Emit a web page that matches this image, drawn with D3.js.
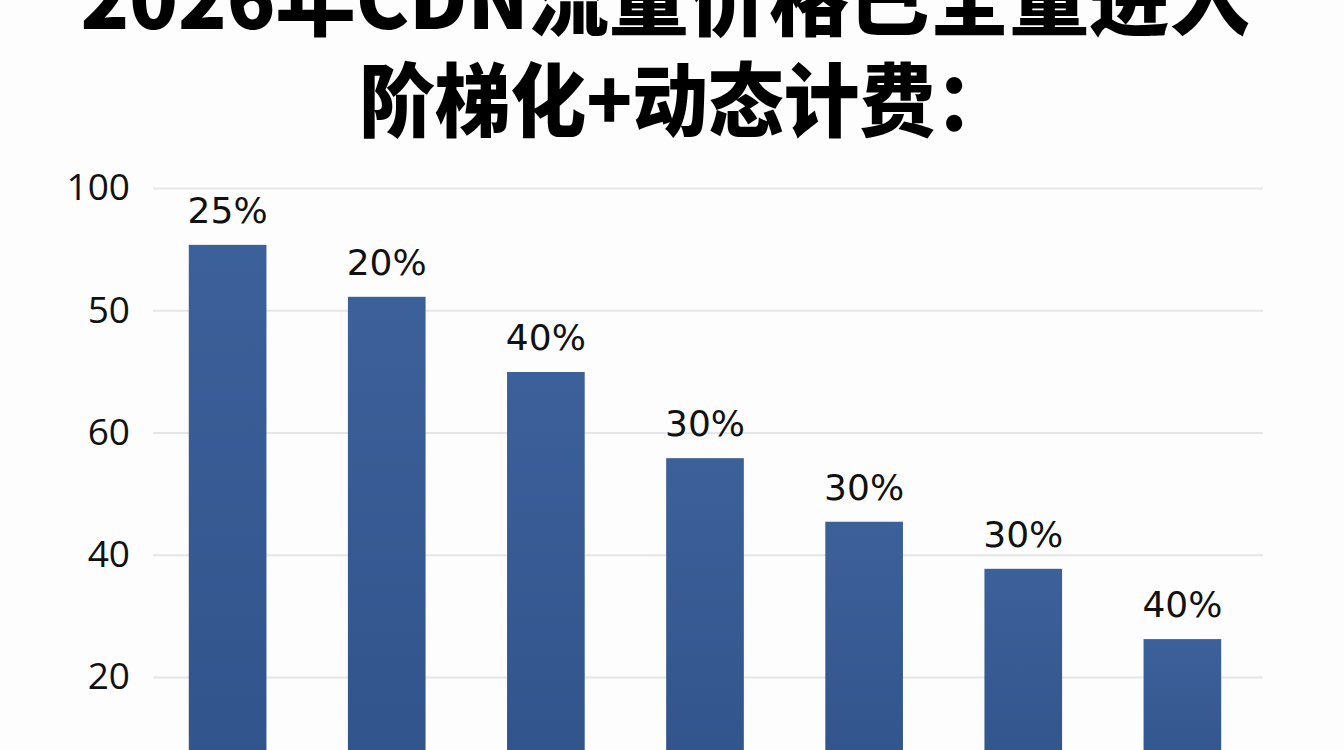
<!DOCTYPE html>
<html>
<head>
<meta charset="utf-8">
<script src="https://cdn.jsdelivr.net/npm/d3@7"></script>
<style>
  html, body { margin: 0; padding: 0; background: #fdfdfd; }
  svg { display: block; }
</style>
</head>
<body>
<div id="chart"></div>
<script>
// chart data
const tiers = ["档1", "档2", "档3", "档4", "档5", "档6", "档7"];
const prices = [90.7, 82.2, 69.9, 55.8, 45.4, 37.7, 26.2];
const dropLabels = ["25%", "20%", "40%", "30%", "30%", "30%", "40%"];
const tickValues = [100, 80, 60, 40, 20];
const tickLabels = ["100", "50", "60", "40", "20"];
const titleLines = ["2026年CDN流量价格已全量进入", "阶梯化+动态计费："];

const width = 1344;
const height = 750;
const gridLeft = 153;
const gridRight = 1263;

const svg = d3
  .select("#chart")
  .append("svg")
  .attr("width", width)
  .attr("height", height);

// bar gradient
const grad = svg
  .append("defs")
  .append("linearGradient")
  .attr("id", "barFill")
  .attr("x1", 0).attr("y1", 0)
  .attr("x2", 0).attr("y2", 1);
grad.append("stop").attr("offset", "0%").attr("stop-color", "#3c6099");
grad.append("stop").attr("offset", "100%").attr("stop-color", "#30538c");

const x = d3
  .scaleBand()
  .domain(tiers)
  .range([149, 1261])
  .paddingInner(0.512)
  .paddingOuter(0.25);

// zero sits below the visible frame, the picture is cropped
const y = d3.scaleLinear().domain([0, 100]).range([799.25, 188]);

// gridlines + tick labels
const yAxis = d3
  .axisLeft(y)
  .tickValues(tickValues)
  .tickSize(-(gridRight - gridLeft))
  .tickPadding(23)
  .tickFormat((d, i) => tickLabels[i]);

const gy = svg
  .append("g")
  .attr("transform", `translate(${gridLeft},0)`)
  .call(yAxis);
gy.select(".domain").remove();
gy.selectAll(".tick line")
  .attr("stroke", "#e4e6e9")
  .attr("stroke-width", 2);
gy.selectAll(".tick text")
  .style("font-family", "'Open Sans', 'Noto Sans', sans-serif")
  .style("font-size", "37px")
  .style("fill", "#111");

// bars
svg
  .append("g")
  .selectAll("rect")
  .data(prices)
  .enter()
  .append("rect")
  .attr("x", (d, i) => x(tiers[i]))
  .attr("y", (d) => y(d))
  .attr("width", x.bandwidth())
  .attr("height", (d) => y(0) - y(d))
  .style("fill", "url(#barFill)");

// value labels
svg
  .append("g")
  .selectAll("text")
  .data(prices)
  .enter()
  .append("text")
  .attr("x", (d, i) => x(tiers[i]) + x.bandwidth() / 2)
  .attr("y", (d) => y(d) - 22)
  .text((d, i) => dropLabels[i])
  .style("font-family", "'DejaVu Sans', sans-serif")
  .style("font-size", "36px")
  .style("text-anchor", "middle")
  .style("fill", "#111");

// title (first line runs off the top edge)
const titleX = [665, 685];
const titleY = [29, 130];
const titleLen = [1169, 652];
svg
  .append("g")
  .selectAll("text")
  .data(titleLines)
  .enter()
  .append("text")
  .attr("x", (d, i) => titleX[i])
  .attr("y", (d, i) => titleY[i])
  .attr("textLength", (d, i) => titleLen[i])
  .attr("lengthAdjust", "spacingAndGlyphs")
  .text((d) => d)
  .style("font-family", "'Noto Sans CJK SC', sans-serif")
  .style("font-weight", 900)
  .style("font-size", "80px")
  .style("text-anchor", "middle")
  .style("fill", "#000");
</script>
</body>
</html>
